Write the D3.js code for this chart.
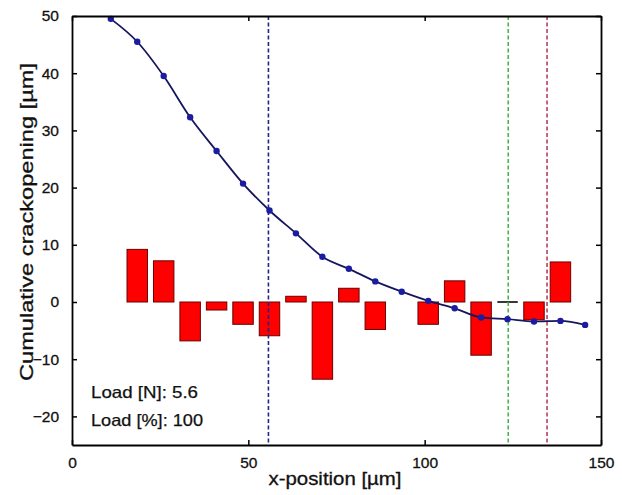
<!DOCTYPE html>
<html>
<head>
<meta charset="utf-8">
<script src="https://cdn.jsdelivr.net/npm/d3@7"></script>
<style>
  body { margin: 0; background: #fff; }
  svg { display: block; font-family: "Liberation Sans", Arial, Helvetica, sans-serif; }
</style>
</head>
<body>
<svg id="chart" width="622" height="495"></svg>
<script>
// Cumulative crack opening curve
const curveX = [11, 18.5, 26, 33.5, 41, 48.5, 56, 63.5, 71, 78.5, 86, 93.5, 101, 108.5, 116, 123.5, 131, 138.5, 145.5];
const curveY = [49.5, 45.5, 39.5, 32.3, 26.4, 20.7, 16.0, 12.0, 7.9, 5.8, 3.6, 1.8, 0.2, -1.1, -2.7, -3.0, -3.4, -3.3, -4.0];
// Individual crack opening bars
const barX = [18.5, 26, 33.5, 41, 48.5, 56, 63.5, 71, 78.5, 86, 101, 108.5, 116, 123.5, 131, 138.5];
const barY = [9.2, 7.2, -6.8, -1.4, -3.9, -5.9, 1.0, -13.5, 2.4, -4.8, -3.9, 3.7, -9.3, 0, -3.1, 7.0];
// Vertical dashed marker lines
const markerX = [55.7, 123.7, 134.7];
const markerColors = ["#24248a", "#4fb04f", "#b5405e"];
const xTicks = [0, 50, 100, 150];
const yTicks = [-20, -10, 0, 10, 20, 30, 40, 50];
const annotations = ["Load [N]: 5.6", "Load [%]: 100"];

const svg = d3.select("#chart");
const L = 72, R = 601, T = 16, B = 445;
const x = d3.scaleLinear().domain([0, 150]).range([L, R]);
const y = d3.scaleLinear().domain([-25, 50]).range([B, T]);
const barW = 5.8;
const bars = barX.map((d, i) => [d, barY[i]]);

// bars
svg.append("g").selectAll("rect").data(bars.filter(d => d[1] !== 0)).join("rect")
  .attr("x", d => x(d[0] - barW / 2))
  .attr("width", d => x(barW) - x(0))
  .attr("y", d => y(Math.max(0, d[1])))
  .attr("height", d => Math.abs(y(d[1]) - y(0)))
  .attr("fill", "#ff0000")
  .attr("stroke", "#6a0000")
  .attr("stroke-width", 1);
// zero-height bars show only their edge
svg.append("g").selectAll("line").data(bars.filter(d => d[1] === 0)).join("line")
  .attr("x1", d => x(d[0] - barW / 2)).attr("x2", d => x(d[0] + barW / 2))
  .attr("y1", y(0)).attr("y2", y(0))
  .attr("stroke", "#222").attr("stroke-width", 1.8);

// dashed markers
svg.append("g").selectAll("line").data(markerX).join("line")
  .attr("x1", d => x(d)).attr("x2", d => x(d))
  .attr("y1", T).attr("y2", B)
  .attr("stroke", (d, i) => markerColors[i])
  .attr("stroke-width", 1.6)
  .attr("stroke-dasharray", "4,2.5");

// curve
const pts = curveX.map((d, i) => [d, curveY[i]]);
svg.append("path").datum(pts)
  .attr("fill", "none")
  .attr("stroke", "#16165e")
  .attr("stroke-width", 1.8)
  .attr("d", d3.line().x(d => x(d[0])).y(d => y(d[1])).curve(d3.curveMonotoneX));
svg.append("g").selectAll("circle").data(pts).join("circle")
  .attr("cx", d => x(d[0])).attr("cy", d => y(d[1]))
  .attr("r", 3.2).attr("fill", "#1c1ca0");

// axes (MATLAB-style box with inward ticks)
const tickLen = -5;
const axBottom = svg.append("g").attr("transform", `translate(0,${B})`)
  .call(d3.axisBottom(x).tickValues(xTicks).tickSizeInner(tickLen).tickSizeOuter(0).tickPadding(12));
const axTop = svg.append("g").attr("transform", `translate(0,${T})`)
  .call(d3.axisTop(x).tickValues(xTicks).tickSizeInner(tickLen).tickSizeOuter(0).tickFormat(""));
const axLeft = svg.append("g").attr("transform", `translate(${L},0)`)
  .call(d3.axisLeft(y).tickValues(yTicks).tickSizeInner(tickLen).tickSizeOuter(0).tickPadding(13));
const axRight = svg.append("g").attr("transform", `translate(${R},0)`)
  .call(d3.axisRight(y).tickValues(yTicks).tickSizeInner(tickLen).tickSizeOuter(0).tickFormat(""));
[axBottom, axTop, axLeft, axRight].forEach(a => {
  a.select(".domain").attr("stroke", "#000").attr("stroke-width", 1.8);
  a.selectAll(".tick line").attr("stroke", "#000").attr("stroke-width", 1.5);
  a.selectAll(".tick text").attr("fill", "#111").attr("font-size", 15.5)
    .attr("stroke", "#111").attr("stroke-width", 0.3)
    .attr("font-family", "'Liberation Sans', Arial, sans-serif");
});

// axis labels
svg.append("text").attr("x", 335).attr("y", 485).attr("text-anchor", "middle")
  .attr("font-size", 18).attr("fill", "#111").attr("stroke", "#111").attr("stroke-width", 0.3)
  .attr("textLength", 133).attr("lengthAdjust", "spacingAndGlyphs")
  .text("x-position [\u00b5m]");
svg.append("text").attr("transform", "translate(33,222) rotate(-90)").attr("text-anchor", "middle")
  .attr("font-size", 18).attr("fill", "#111").attr("stroke", "#111").attr("stroke-width", 0.3)
  .attr("textLength", 318).attr("lengthAdjust", "spacingAndGlyphs")
  .text("Cumulative crackopening [\u00b5m]");

// annotations
const annLen = [107, 112];
svg.append("g").selectAll("text").data(annotations).join("text")
  .attr("x", 91).attr("y", (d, i) => 398 + i * 28)
  .attr("font-size", 16.5).attr("fill", "#111").attr("stroke", "#111").attr("stroke-width", 0.25)
  .attr("textLength", (d, i) => annLen[i]).attr("lengthAdjust", "spacingAndGlyphs")
  .text(d => d);
</script>
</body>
</html>
